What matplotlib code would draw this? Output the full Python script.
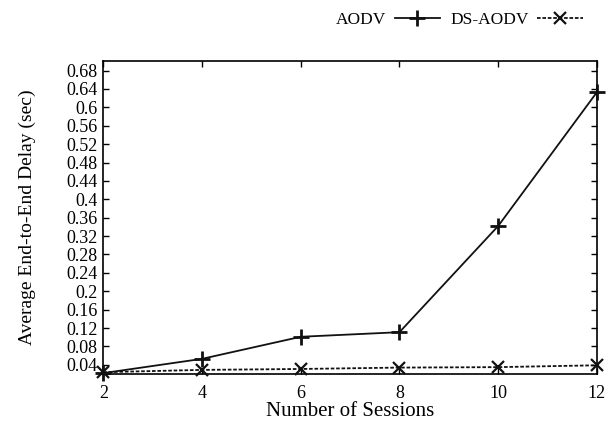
import matplotlib
matplotlib.use("Agg")
import matplotlib.pyplot as plt
import numpy as np

sessions = [2, 4, 6, 8, 10, 12]
aodv = [0.022, 0.053, 0.101, 0.111, 0.342, 0.633]
ds_aodv = [0.024, 0.029, 0.031, 0.034, 0.035, 0.039]
yticks = [0.04, 0.08, 0.12, 0.16, 0.2, 0.24, 0.28, 0.32, 0.36, 0.4,
          0.44, 0.48, 0.52, 0.56, 0.6, 0.64, 0.68]
ytick_labels = ["0.04", "0.08", "0.12", "0.16", "0.2", "0.24", "0.28", "0.32", "0.36",
                "0.4", "0.44", "0.48", "0.52", "0.56", "0.6", "0.64", "0.68"]

plt.rcParams['font.family'] = ['Liberation Serif', 'DejaVu Serif']

fig = plt.figure(figsize=(6.11, 4.26), dpi=100)
ax = fig.add_axes([0.169, 0.122, 0.808, 0.734])

ax.plot(sessions, aodv, color='#111111', lw=1.3, marker='+', ms=11, mew=2,
        label='AODV', clip_on=False, zorder=3)
ax.plot(sessions, ds_aodv, color='#111111', lw=1.3, ls=(0, (2, 1)), marker='x', ms=9, mew=1.6,
        label='DS-AODV', clip_on=False, zorder=3)

ax.set_xlim(2, 12)
ax.set_ylim(0.02, 0.70)
ax.set_xticks(sessions)
ax.set_yticks(yticks)
ax.set_yticklabels(ytick_labels)
ax.tick_params(direction='in', top=True, right=True, length=4, width=1,
               labelsize=13)
ax.tick_params(axis='x', pad=8)
ax.tick_params(axis='y', pad=4)
for s in ax.spines.values():
    s.set_linewidth(1.2)

ax.set_xlabel("Number of Sessions", fontsize=15, labelpad=0)
ax.set_ylabel("Average End-to-End Delay (sec)", fontsize=14, labelpad=22)

ax.legend(loc='lower right', bbox_to_anchor=(0.985, 1.085), ncol=2, frameon=False,
          markerfirst=False, fontsize=12.5, handlelength=2.6, columnspacing=0.6,
          handletextpad=0.5, borderaxespad=0)

fig.savefig("out.png", dpi=100)
